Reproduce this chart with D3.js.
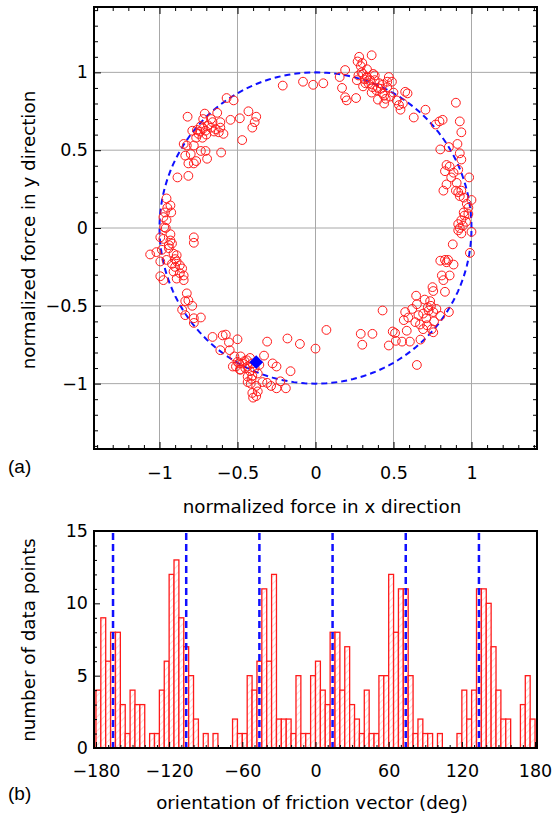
<!DOCTYPE html>
<html>
<head>
<meta charset="utf-8">
<script src="https://cdn.jsdelivr.net/npm/d3@7"></script>
<style>
  body { margin: 0; background: #fff; }
  text { font-family: "DejaVu Sans", Verdana, sans-serif; }
</style>
</head>
<body>
<svg width="552" height="819"></svg>
<script>
// ---- data: normalized friction force samples (x, y) ----
const topCluster = [
  [-0.21,0.915],[-0.08,0.94],[-0.015,0.92],[0.05,0.93],[0.19,1.015],[0.155,0.97],[0.17,0.9],[0.19,0.84],
  [0.2,0.82],[0.26,0.835],[0.28,1.1],[0.36,1.11],[0.29,1.04],[0.295,1.0],[0.275,0.98],[0.305,0.99],
  [0.265,0.95],[0.315,0.955],[0.34,0.93],[0.305,0.91],[0.37,0.99],[0.38,0.95],[0.365,0.905],[0.39,0.885],
  [0.41,0.93],[0.43,0.865],[0.4,0.825],[0.44,0.8],[0.42,0.895],[0.46,0.905],[0.47,0.97],[0.49,0.94],
  [0.48,0.845],[0.45,0.83],[0.46,0.94],[0.52,0.82],[0.535,0.79],[0.545,0.76],[0.56,0.8],[0.575,0.875],
  [0.59,0.865],[0.63,0.71],[0.705,0.76],[0.77,0.665],[0.795,0.685],[0.815,0.695],[0.9,0.805],[0.925,0.685],
  [0.935,0.615],[0.91,0.54],[0.8,0.505],[0.855,0.52],
  [0.33,0.97],[0.35,0.95],[0.4,0.9],[0.43,0.92],[0.32,0.93],[0.36,0.87],[0.44,0.85],[0.5,0.87],
  [0.38,0.98],[0.3,1.06],[0.27,1.07],[0.33,1.02]
];
const rightCluster = [
  [0.925,0.48],[0.935,0.44],[0.84,0.405],[0.86,0.395],[0.83,0.365],[0.885,0.355],[0.915,0.375],[0.87,0.325],
  [0.985,0.325],[0.84,0.28],[0.905,0.29],[0.82,0.24],[0.9,0.24],[0.915,0.23],[0.935,0.24],[0.925,0.205],
  [0.95,0.195],[1.0,0.18],[0.97,0.155],[0.98,0.13],[0.95,0.1],[0.955,0.08],[0.98,0.09],[0.935,0.05],
  [0.915,0.025],[0.945,0.015],[0.925,0.0],[0.965,0.04],[1.0,-0.025],[0.935,-0.035],[0.915,-0.015],[0.88,-0.105],
  [0.99,-0.16],[0.8,-0.21],[0.83,-0.205],[0.85,-0.205],[0.84,-0.22],[0.885,-0.235],[0.81,-0.305],[0.86,-0.305],
  [0.82,-0.335],[0.75,-0.38],[0.755,-0.405],[0.83,-0.41],[0.645,-0.435],[0.7,-0.46],[0.65,-0.49],[0.735,-0.47],
  [0.74,-0.5],[0.725,-0.53],[0.755,-0.54],[0.775,-0.52],[0.8,-0.565],[0.855,-0.54],[0.575,-0.54],[0.595,-0.575],
  [0.64,-0.605],[0.67,-0.62],[0.69,-0.65],[0.715,-0.625],[0.745,-0.65],[0.755,-0.67],[0.585,-0.66],[0.555,-0.73],
  [0.605,-0.73],
  [0.673,-0.717],[0.566,-0.592],[0.72,-0.51],[0.69,-0.55],[0.66,-0.56],[0.71,-0.58],[0.76,-0.6],[0.62,-0.52]
];
const bottomScatter = [
  [0.43,-0.53],[0.365,-0.68],[0.29,-0.68],[0.3,-0.75],[0.47,-0.755],[0.51,-0.675],[0.495,-0.665],[0.515,-0.725],
  [0.65,-0.88],[0.07,-0.655],[0.0,-0.775],[-0.1,-0.745],[-0.18,-0.71],[-0.16,-0.92],[-0.19,-1.03],[-0.225,-0.985]
];
const upperLeftCluster = [
  [-0.57,0.835],[-0.525,0.82],[-0.82,0.715],[-0.71,0.735],[-0.72,0.7],[-0.67,0.7],[-0.63,0.74],[-0.61,0.68],
  [-0.545,0.695],[-0.485,0.705],[-0.43,0.75],[-0.38,0.715],[-0.39,0.68],[-0.405,0.645],[-0.47,0.565],[-0.79,0.625],
  [-0.76,0.63],[-0.735,0.655],[-0.75,0.605],[-0.705,0.625],[-0.67,0.645],[-0.64,0.635],[-0.61,0.645],[-0.59,0.605],
  [-0.62,0.615],[-0.725,0.58],[-0.765,0.58],[-0.845,0.54],[-0.825,0.53],[-0.78,0.53],[-0.735,0.495],[-0.705,0.495],
  [-0.605,0.485],[-0.835,0.465],[-0.8,0.475],[-0.695,0.445],[-0.815,0.415],[-0.78,0.415],[-0.765,0.43],[-0.885,0.325],
  [-0.815,0.335],
  [-0.69,0.66],[-0.66,0.68],[-0.72,0.64],[-0.7,0.6],[-0.74,0.62],[-0.65,0.62]
];
const leftCluster = [
  [-0.955,0.19],[-0.93,0.145],[-0.965,0.1],[-0.925,0.1],[-0.975,0.07],[-0.955,0.05],[-0.97,0.005],[-0.995,-0.06],
  [-0.975,-0.07],[-0.93,-0.08],[-0.92,-0.1],[-0.78,-0.06],[-0.78,-0.095],[-1.06,-0.17],[-1.02,-0.155],[-0.985,-0.14],
  [-0.94,-0.13],[-0.91,-0.165],[-0.89,-0.175],[-0.995,-0.215],[-0.955,-0.205],[-0.92,-0.23],[-0.9,-0.25],[-0.89,-0.215],
  [-0.855,-0.26],[-0.87,-0.29],[-0.91,-0.28],[-0.845,-0.335],[-0.89,-0.325],[-0.995,-0.31],[-0.975,-0.335],[-0.845,-0.305],
  [-0.95,0.13],[-0.94,-0.11],[-0.9,-0.2],[-0.87,-0.24],[-0.96,0.0],[-0.93,-0.04]
];
const lowerLeftCluster = [
  [-0.825,-0.42],[-0.815,-0.465],[-0.835,-0.47],[-0.79,-0.5],[-0.855,-0.525],[-0.835,-0.56],[-0.78,-0.58],[-0.735,-0.575],
  [-0.78,-0.61],[-0.66,-0.7],[-0.575,-0.685],[-0.61,-0.785],[-0.555,-0.735],[-0.5,-0.715],[-0.55,-0.785],[-0.31,-0.73],
  [-0.52,-0.825],[-0.48,-0.825],[-0.455,-0.855],[-0.51,-0.89],[-0.48,-0.91],[-0.435,-0.89],[-0.42,-0.835],[-0.405,-0.87],
  [-0.33,-0.82],[-0.405,-0.95],[-0.415,-1.0],[-0.37,-0.935],[-0.38,-1.015],[-0.405,-1.06],[-0.38,-1.08],[-0.37,-1.05],
  [-0.31,-0.995],[-0.275,-0.87],[-0.25,-0.89],[-0.25,-1.03],[-0.49,-0.87],[-0.435,-0.955],
  [-0.595,-0.69],[-0.53,-0.89],[-0.485,-0.91],[-0.435,-0.99],[-0.4,-1.09],[-0.34,-0.99],[-0.285,-1.015],
  [-0.45,-0.9],[-0.42,-0.92],[-0.47,-0.87],[-0.44,-0.85],[-0.39,-0.9],[-0.36,-0.88],[-0.41,-0.97],[-0.5,-0.86]
];
const meanForce = [-0.38, -0.862];
const unitCircleRadius = 1;

// ---- data: histogram of friction vector orientation ----
const binStart = -180;
const binWidth = 4;
const binCounts = [
  4,9,6,8,8,3,1,4,3,3,   0,1,1,4,6,12,13,9,7,5,
  2,0,1,0,1,0,0,0,2,1,   1,5,4,6,11,6,12,2,2,2,
  1,5,1,1,5,6,4,3,8,8,   4,7,3,2,1,4,1,1,5,5,
  12,8,11,11,5,1,2,1,1,0, 1,0,0,0,1,4,2,4,11,11,
  10,7,4,2,2,0,0,3,5,2
];
const guideAngles = [-166, -106, -46, 14, 74, 134];

// ---- ticks ----
const forceTicks = [-1, -0.5, 0, 0.5, 1];
const forceMinor = d3.range(-14, 15).filter(i => i % 5 !== 0).map(i => i / 10);
const angleTicks = [-180, -120, -60, 0, 60, 120, 180];
const angleMinor = d3.range(-180, 181, 10).filter(v => v % 60 !== 0);
const countTicks = [0, 5, 10, 15];
const countMinor = d3.range(0, 16).filter(v => v % 5 !== 0);

const svg = d3.select('svg');
const fmt = d => String(d).replace('-', '\u2212');

function styleAxis(g) {
  g.select('.domain').remove();
  g.selectAll('line').attr('stroke', '#000').attr('stroke-width', 1);
  g.selectAll('text').attr('font-size', 17.5).attr('fill', '#000')
    .attr('font-family', '"DejaVu Sans", Verdana, sans-serif');
}

// ================= panel (a) =================
const xS = d3.scaleLinear([-1.42, 1.42], [94, 537]);
const yS = d3.scaleLinear([-1.42, 1.42], [449, 7]);
const a = svg.append('g');

a.append('g').selectAll('line').data(forceTicks).join('line')
  .attr('x1', d => xS(d)).attr('x2', d => xS(d)).attr('y1', 7).attr('y2', 449)
  .attr('stroke', '#a8a8a8').attr('stroke-width', 1);
a.append('g').selectAll('line').data(forceTicks).join('line')
  .attr('y1', d => yS(d)).attr('y2', d => yS(d)).attr('x1', 94).attr('x2', 537)
  .attr('stroke', '#a8a8a8').attr('stroke-width', 1);

a.append('g').attr('transform', 'translate(0,449)')
  .call(d3.axisBottom(xS).tickValues(forceTicks).tickSize(-7).tickPadding(18).tickFormat(fmt)).call(styleAxis);
a.append('g').attr('transform', 'translate(0,449)')
  .call(d3.axisBottom(xS).tickValues(forceMinor).tickSize(-4).tickFormat('')).call(styleAxis);
a.append('g').attr('transform', 'translate(0,7)')
  .call(d3.axisTop(xS).tickValues(forceTicks).tickSize(-7).tickFormat('')).call(styleAxis);
a.append('g').attr('transform', 'translate(0,7)')
  .call(d3.axisTop(xS).tickValues(forceMinor).tickSize(-4).tickFormat('')).call(styleAxis);
a.append('g').attr('transform', 'translate(94,0)')
  .call(d3.axisLeft(yS).tickValues(forceTicks).tickSize(-7).tickPadding(6).tickFormat(fmt)).call(styleAxis);
a.append('g').attr('transform', 'translate(94,0)')
  .call(d3.axisLeft(yS).tickValues(forceMinor).tickSize(-4).tickFormat('')).call(styleAxis);
a.append('g').attr('transform', 'translate(537,0)')
  .call(d3.axisRight(yS).tickValues(forceTicks).tickSize(-7).tickFormat('')).call(styleAxis);
a.append('g').attr('transform', 'translate(537,0)')
  .call(d3.axisRight(yS).tickValues(forceMinor).tickSize(-4).tickFormat('')).call(styleAxis);

// unit circle
const circlePts = d3.range(0, 361, 2).map(t => [unitCircleRadius * Math.cos(t * Math.PI / 180), unitCircleRadius * Math.sin(t * Math.PI / 180)]);
a.append('path').datum(circlePts)
  .attr('d', d3.line().x(d => xS(d[0])).y(d => yS(d[1])))
  .attr('fill', 'none').attr('stroke', '#1010ff').attr('stroke-width', 2)
  .attr('stroke-dasharray', '6,4');

const allPoints = [].concat(topCluster, rightCluster, bottomScatter, upperLeftCluster, leftCluster, lowerLeftCluster);
a.append('g').selectAll('circle').data(allPoints).join('circle')
  .attr('cx', d => xS(d[0])).attr('cy', d => yS(d[1])).attr('r', 4.4)
  .attr('fill', 'none').attr('stroke', '#ff1a1a').attr('stroke-width', 1);

a.append('path')
  .attr('d', d3.symbol(d3.symbolSquare, 95)())
  .attr('transform', `translate(${xS(meanForce[0])},${yS(meanForce[1])}) rotate(45)`)
  .attr('fill', '#0000ff');

a.append('rect').attr('x', 94).attr('y', 7).attr('width', 443).attr('height', 442)
  .attr('fill', 'none').attr('stroke', '#000').attr('stroke-width', 2);

a.append('text').attr('x', 322).attr('y', 513).attr('text-anchor', 'middle').attr('font-size', 18.3)
  .text('normalized force in x direction');
a.append('text').attr('transform', 'translate(35,230) rotate(-90)').attr('text-anchor', 'middle').attr('font-size', 18.3)
  .text('normalized force in y direction');
a.append('text').attr('x', 8).attr('y', 473).attr('font-size', 19)
  .style('font-family', '"Liberation Sans", Arial, sans-serif')
  .text('(a)');

// ================= panel (b) =================
const hx = d3.scaleLinear([-181.6, 181.6], [94, 537]);
const hy = d3.scaleLinear([0, 15], [748, 531]);
const b = svg.append('g');

const defs = svg.append('defs');
const pat = defs.append('pattern').attr('id', 'hatch').attr('patternUnits', 'userSpaceOnUse')
  .attr('width', 5).attr('height', 5).attr('patternTransform', 'rotate(45)');
pat.append('rect').attr('width', 5).attr('height', 5).attr('fill', '#fff');
pat.append('line').attr('x1', 0).attr('y1', 0).attr('x2', 0).attr('y2', 5)
  .attr('stroke', '#ffc4c4').attr('stroke-width', 1.3);

const bins = binCounts.map((c, i) => ({ x0: binStart + i * binWidth, x1: binStart + (i + 1) * binWidth, n: c }))
  .filter(d => d.n > 0);
b.append('g').selectAll('rect').data(bins).join('rect')
  .attr('x', d => hx(d.x0)).attr('width', d => hx(d.x1) - hx(d.x0))
  .attr('y', d => hy(d.n)).attr('height', d => hy(0) - hy(d.n))
  .attr('fill', 'url(#hatch)').attr('stroke', '#ff1a1a').attr('stroke-width', 1.3);

b.append('g').selectAll('line').data(guideAngles).join('line')
  .attr('x1', d => hx(d)).attr('x2', d => hx(d)).attr('y1', 533).attr('y2', 748)
  .attr('stroke', '#1010ff').attr('stroke-width', 2.5).attr('stroke-dasharray', '7,4');

b.append('g').attr('transform', 'translate(0,748)')
  .call(d3.axisBottom(hx).tickValues(angleTicks).tickSize(-6).tickPadding(17).tickFormat(fmt)).call(styleAxis);
b.append('g').attr('transform', 'translate(0,748)')
  .call(d3.axisBottom(hx).tickValues(angleMinor).tickSize(-3).tickFormat('')).call(styleAxis);
b.append('g').attr('transform', 'translate(94,0)')
  .call(d3.axisLeft(hy).tickValues(countTicks).tickSize(-6).tickPadding(6).tickFormat(fmt)).call(styleAxis);
b.append('g').attr('transform', 'translate(94,0)')
  .call(d3.axisLeft(hy).tickValues(countMinor).tickSize(-3).tickFormat('')).call(styleAxis);

b.append('rect').attr('x', 94).attr('y', 531).attr('width', 443).attr('height', 217)
  .attr('fill', 'none').attr('stroke', '#000').attr('stroke-width', 2);

b.append('text').attr('x', 312).attr('y', 809).attr('text-anchor', 'middle').attr('font-size', 18.3)
  .text('orientation of friction vector (deg)');
b.append('text').attr('transform', 'translate(35,640) rotate(-90)').attr('text-anchor', 'middle').attr('font-size', 18.3)
  .text('number of data points');
b.append('text').attr('x', 8).attr('y', 800).attr('font-size', 19)
  .style('font-family', '"Liberation Sans", Arial, sans-serif')
  .text('(b)');
</script>
</body>
</html>
